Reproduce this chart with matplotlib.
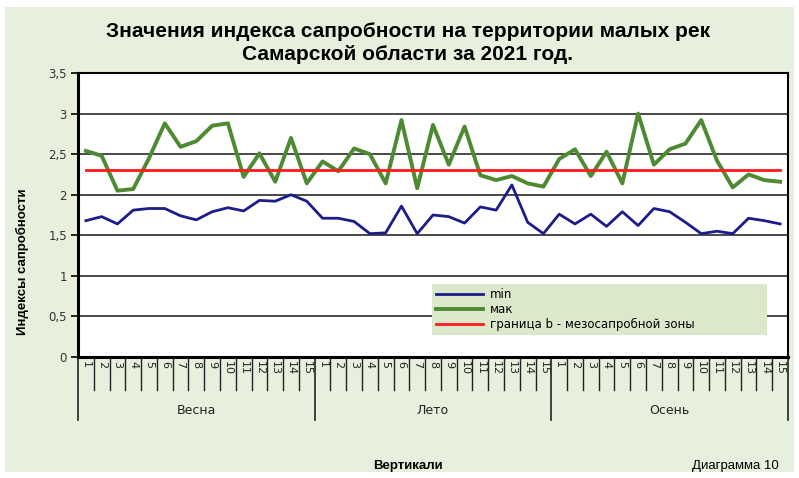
import matplotlib
matplotlib.use("Agg")
import matplotlib.pyplot as plt
from matplotlib.patches import Rectangle
import matplotlib.transforms as mtransforms

seasons = ["Весна", "Лето", "Осень"]
verticals = [str(i) for i in range(1, 16)]

min_vals = [1.68, 1.73, 1.64, 1.81, 1.83, 1.83, 1.74, 1.69, 1.79, 1.84, 1.80, 1.93, 1.92, 2.00, 1.92,
            1.71, 1.71, 1.67, 1.52, 1.53, 1.86, 1.52, 1.75, 1.73, 1.65, 1.85, 1.81, 2.12, 1.66, 1.52,
            1.76, 1.64, 1.76, 1.61, 1.79, 1.62, 1.83, 1.79, 1.66, 1.52, 1.55, 1.52, 1.71, 1.68, 1.64]
max_vals = [2.54, 2.48, 2.05, 2.07, 2.45, 2.88, 2.59, 2.66, 2.85, 2.88, 2.22, 2.51, 2.16, 2.70, 2.14,
            2.41, 2.29, 2.57, 2.50, 2.14, 2.92, 2.08, 2.86, 2.37, 2.84, 2.24, 2.18, 2.23, 2.14, 2.10,
            2.44, 2.56, 2.23, 2.53, 2.14, 3.00, 2.37, 2.56, 2.63, 2.92, 2.42, 2.09, 2.25, 2.18, 2.16]
border_val = 2.3

yticks = [0, 0.5, 1, 1.5, 2, 2.5, 3, 3.5]
ytick_labels = ["0", "0,5", "1", "1,5", "2", "2,5", "3", "3,5"]

BG = "#e7f0dc"
W, H = 799, 478
fig = plt.figure(figsize=(W / 100, H / 100), dpi=100, facecolor="white")
fig.patches.append(Rectangle((5 / W, 6 / H), 789 / W, 465 / H, transform=fig.transFigure,
                             facecolor=BG, edgecolor="none", zorder=-10))

ax = fig.add_axes([78 / W, 1 - 357 / H, 710 / W, 284 / H])
ax.set_facecolor("white")

n = len(seasons) * len(verticals)
x = list(range(n))
border = [border_val] * n

ax.plot(x, min_vals, color="#1c1c8a", lw=2.0, label="min", zorder=3)
ax.plot(x, max_vals, color="#4e8a32", lw=2.8, label="мак", zorder=3)
ax.plot(x, border, color="#ff1a1a", lw=2.0, label="граница b - мезосапробной зоны", zorder=4)

ax.set_xlim(-0.5, n - 0.5)
ax.set_ylim(0, 3.5)
ax.set_yticks(yticks)
ax.set_yticklabels(ytick_labels, fontsize=8.5, color="#333333")
ax.yaxis.grid(True, color="#3a3a3a", lw=1.3)
ax.set_axisbelow(True)
ax.tick_params(axis="y", length=5, width=1.2, pad=3, direction="out")
for s in ax.spines.values():
    s.set_color("black")
    s.set_linewidth(1.5)
ax.spines["left"].set_linewidth(2.2)
ax.spines["bottom"].set_linewidth(2.2)

ax.set_xticks(x)
ax.set_xticklabels(verticals * len(seasons), rotation=270, fontsize=8, color="#222222")
ax.tick_params(axis="x", length=0, pad=3)

trans = mtransforms.blended_transform_factory(ax.transData, ax.transAxes)
ph = 284
for k in range(n + 1):
    if k % len(verticals) == 0:
        ax.plot([k - 0.5, k - 0.5], [0, -63 / ph], color="#222222", lw=1.2,
                transform=trans, clip_on=False)
    else:
        ax.plot([k - 0.5, k - 0.5], [0, -33 / ph], color="#222222", lw=1.0,
                transform=trans, clip_on=False)
for i, s in enumerate(seasons):
    c = i * len(verticals) + (len(verticals) - 1) / 2
    ax.text(c, -53 / ph, s, transform=trans, ha="center", va="center", fontsize=9, color="#222222")

leg = ax.legend(loc="lower left",
                bbox_to_anchor=((432 - 78) / 710, (357 - 335) / 284, 335 / 710, 52 / 284),
                mode="expand", frameon=True, fontsize=8.5, handlelength=4.0, borderpad=0.3,
                labelspacing=0.2, handletextpad=0.6, borderaxespad=0)
leg.get_frame().set_facecolor("#dce8cc")
leg.get_frame().set_edgecolor("none")
leg.get_frame().set_alpha(1)
leg.get_frame().set_boxstyle("square", pad=0)

fig.text(408 / W, 1 - 43 / H,
         "Значения индекса сапробности на территории малых рек\nСамарской области за 2021 год.",
         ha="center", va="center", fontsize=15, fontweight="bold", linespacing=1.3,
         family="Liberation Sans")
fig.text(22 / W, 1 - 262 / H, "Индексы сапробности", rotation=90, ha="center", va="center",
         fontsize=9.5, fontweight="bold", family="Liberation Sans")
fig.text(408 / W, 1 - 466 / H, "Вертикали", ha="center", va="center",
         fontsize=9.5, fontweight="bold", family="Liberation Sans")
fig.text(735 / W, 1 - 466 / H, "Диаграмма 10", ha="center", va="center",
         fontsize=9.5, family="Liberation Sans")

fig.savefig("out.png", dpi=100, facecolor=fig.get_facecolor())
